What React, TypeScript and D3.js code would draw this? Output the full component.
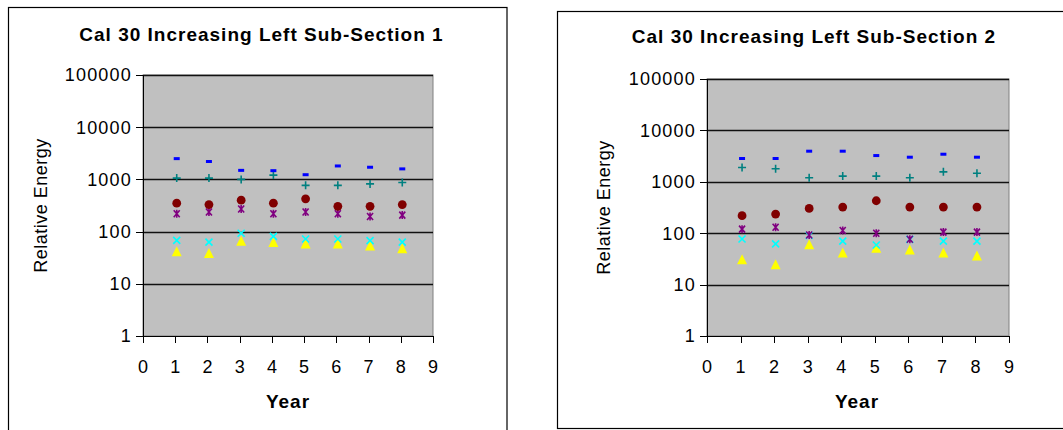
import React, { useEffect, useRef } from 'react';
import * as d3 from 'd3';

// years on the x axis
const years = [1, 2, 3, 4, 5, 6, 7, 8];
const xTicks = [0, 1, 2, 3, 4, 5, 6, 7, 8, 9];
const yTicks = [1, 10, 100, 1000, 10000, 100000];

// Sub-Section 1 values
const s1Blue = [2500, 2200, 1490, 1470, 1230, 1810, 1710, 1590];
const s1Teal = [1060, 1060, 1000, 1210, 770, 770, 820, 870];
const s1Red = [350, 330, 400, 350, 425, 305, 305, 330];
const s1Purple = [220, 237, 270, 220, 237, 220, 195, 207];
const s1Cyan = [68, 63, 93, 81, 72, 72, 67, 63];
const s1Yellow = [42, 39, 67, 63, 59, 59, 54, 48];

// Sub-Section 2 values
const s2Blue = [2840, 2840, 3940, 3940, 3240, 3010, 3440, 3010];
const s2Teal = [1900, 1790, 1200, 1290, 1290, 1200, 1560, 1470];
const s2Red = [219, 236, 303, 322, 428, 322, 322, 322];
const s2Purple = [120, 130, 92, 113, 100, 76, 105, 105];
const s2Cyan = [77, 62, 90, 70, 59, 76, 70, 70];
const s2Yellow = [31, 25, 61, 42, 52, 48, 42, 37];

const FONT = '"Liberation Sans", Arial, sans-serif';

const markerPaths = {
  triangle: 'M0,-5L5,5L-5,5Z',
  dash: 'M-3,-1.5H3V1.5H-3Z',
  plus: 'M-4,0H4M0,-4V4',
  cross: 'M-3.5,-3.5L3.5,3.5M-3.5,3.5L3.5,-3.5',
  star: 'M-3,-3.5L3,3.5M-3,3.5L3,-3.5M0,-4V4',
};

const panels = [
  {
    title: 'Cal 30 Increasing Left Sub-Section 1',
    box: { x: 8.5, y: 7.5, w: 498.5, h: 450 },
    plot: { l: 143, r: 433, t: 75, b: 336 },
    titleX: 261.5, titleY: 41, yearX: 288, axisTitleX: 47,
    series: [s1Yellow, s1Cyan, s1Purple, s1Red, s1Teal, s1Blue],
  },
  {
    title: 'Cal 30 Increasing Left Sub-Section 2',
    box: { x: 557.5, y: 11.5, w: 520, h: 417 },
    plot: { l: 707, r: 1009, t: 79, b: 336 },
    titleX: 814, titleY: 43, yearX: 857, axisTitleX: 610,
    series: [s2Yellow, s2Cyan, s2Purple, s2Red, s2Teal, s2Blue],
  },
];

// draw order matches the spreadsheet series order
const styles = [
  { kind: 'triangle', fill: '#FFFF00', stroke: 'none' },
  { kind: 'cross', fill: 'none', stroke: '#00FFFF' },
  { kind: 'star', fill: 'none', stroke: '#800080' },
  { kind: 'circle', fill: '#800000', stroke: 'none' },
  { kind: 'plus', fill: 'none', stroke: '#008080' },
  { kind: 'dash', fill: '#0000FF', stroke: 'none' },
];

const App = () => {
  const ref = useRef(null);

  useEffect(() => {
    const svg = d3.select(ref.current);
    svg.selectAll('*').remove();

    panels.forEach(p => {
      const g = svg.append('g');
      const x = d3.scaleLinear().domain([0, 9]).range([p.plot.l, p.plot.r]);
      const y = d3.scaleLog().domain([1, 100000]).range([p.plot.b, p.plot.t]);

      g.append('rect')
        .attr('x', p.box.x).attr('y', p.box.y)
        .attr('width', p.box.w).attr('height', p.box.h)
        .attr('fill', 'white').attr('stroke', 'black').attr('stroke-width', 1.2);

      g.append('rect')
        .attr('x', p.plot.l).attr('y', p.plot.t)
        .attr('width', p.plot.r - p.plot.l).attr('height', p.plot.b - p.plot.t)
        .attr('fill', '#C0C0C0').attr('stroke', '#808080').attr('stroke-width', 1);

      g.selectAll('.grid')
        .data(yTicks.slice(1))
        .join('line')
        .attr('x1', p.plot.l).attr('x2', p.plot.r)
        .attr('y1', d => Math.round(y(d)) + 0.5).attr('y2', d => Math.round(y(d)) + 0.5)
        .attr('stroke', '#111').attr('stroke-width', 1.3);

      // axes
      g.append('line')
        .attr('x1', p.plot.l + 0.5).attr('x2', p.plot.l + 0.5)
        .attr('y1', p.plot.t).attr('y2', p.plot.b)
        .attr('stroke', 'black');
      g.append('line')
        .attr('x1', p.plot.l).attr('x2', p.plot.r)
        .attr('y1', p.plot.b + 0.5).attr('y2', p.plot.b + 0.5)
        .attr('stroke', 'black');

      g.selectAll('.ytick')
        .data(yTicks)
        .join('line')
        .attr('x1', p.plot.l - 7).attr('x2', p.plot.l)
        .attr('y1', d => Math.round(y(d)) + 0.5).attr('y2', d => Math.round(y(d)) + 0.5)
        .attr('stroke', 'black');
      g.selectAll('.ylab')
        .data(yTicks)
        .join('text')
        .attr('x', p.plot.l - 11)
        .attr('y', d => y(d))
        .attr('dy', '0.36em')
        .attr('text-anchor', 'end')
        .attr('font-family', FONT).attr('font-size', 18)
        .attr('letter-spacing', 1.2)
        .text(d => d);

      g.selectAll('.xtick')
        .data(xTicks)
        .join('line')
        .attr('x1', d => Math.round(x(d)) + 0.5).attr('x2', d => Math.round(x(d)) + 0.5)
        .attr('y1', p.plot.b).attr('y2', p.plot.b + 7)
        .attr('stroke', 'black');
      g.selectAll('.xlab')
        .data(xTicks)
        .join('text')
        .attr('x', d => x(d))
        .attr('y', 373)
        .attr('text-anchor', 'middle')
        .attr('font-family', FONT).attr('font-size', 18)
        .text(d => d);

      g.append('text')
        .attr('x', p.titleX).attr('y', p.titleY)
        .attr('text-anchor', 'middle')
        .attr('font-family', FONT).attr('font-size', 19).attr('font-weight', 'bold')
        .attr('letter-spacing', 1)
        .text(p.title);

      g.append('text')
        .attr('x', p.yearX).attr('y', 408)
        .attr('text-anchor', 'middle')
        .attr('font-family', FONT).attr('font-size', 19).attr('font-weight', 'bold')
        .attr('letter-spacing', 1)
        .text('Year');

      const cy = (p.plot.t + p.plot.b) / 2;
      g.append('text')
        .attr('transform', `translate(${p.axisTitleX},${cy}) rotate(-90)`)
        .attr('text-anchor', 'middle')
        .attr('font-family', FONT).attr('font-size', 18)
        .attr('letter-spacing', 0.5)
        .text('Relative Energy');

      p.series.forEach((vals, i) => {
        const st = styles[i];
        const pts = g.append('g').selectAll('g')
          .data(vals.map((v, j) => ({ yr: years[j], v })))
          .join('g')
          .attr('transform', d => `translate(${x(d.yr) + 1.5},${y(d.v)})`);
        if (st.kind === 'circle') {
          pts.append('circle').attr('r', 4.4).attr('fill', st.fill);
        } else {
          pts.append('path')
            .attr('d', markerPaths[st.kind])
            .attr('fill', st.fill)
            .attr('stroke', st.stroke)
            .attr('stroke-width', 1.6);
        }
      });
    });
  }, []);

  return (
    <svg
      ref={ref}
      width={1063}
      height={430}
      style={{ position: 'absolute', left: 0, top: 0, background: 'white' }}
    />
  );
};

export default App;
